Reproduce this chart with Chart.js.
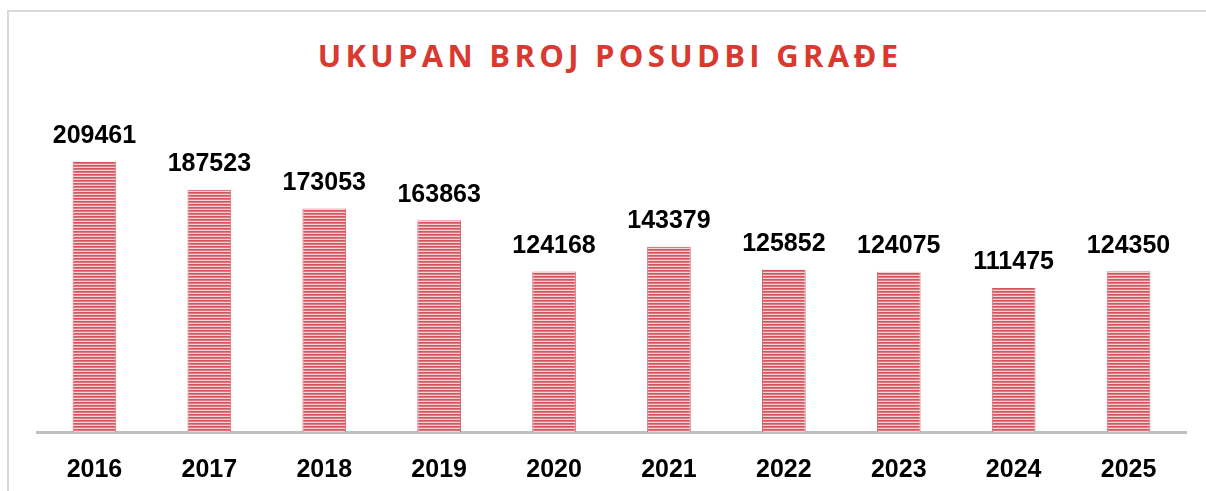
<!DOCTYPE html>
<html>
<head>
<meta charset="utf-8">
<script src="https://cdn.jsdelivr.net/npm/chart.js@4/dist/chart.umd.min.js"></script>
<style>
  html, body { margin: 0; padding: 0; background: #fff; }
  #wrap { position: relative; width: 1206px; height: 491px; overflow: hidden; }
  #frame { position: absolute; left: 7px; top: 10px; width: 1300px; height: 600px;
           border-left: 2px solid #d9d9d9; border-top: 2px solid #d9d9d9; }
  #title { position: absolute; left: 0; width: 1220px; top: 33px; text-align: center;
           font-family: 'Open Sans', sans-serif; font-weight: 700; font-size: 31px;
           letter-spacing: 4.3px; color: #d93a30; line-height: 44px; }
  canvas { position: absolute; left: 0; top: 0; }
</style>
</head>
<body>
<div id="wrap">
  <div id="frame"></div>
  <div id="title">UKUPAN BROJ POSUDBI GRAĐE</div>
  <canvas id="c" width="1206" height="520"></canvas>
</div>
<script>
const years = ['2016', '2017', '2018', '2019', '2020', '2021', '2022', '2023', '2024', '2025'];
const loans = [209461, 187523, 173053, 163863, 124168, 143379, 125852, 124075, 111475, 124350];

// striped fill like the original bars
function stripePattern() {
    const p = document.createElement('canvas');
    p.width = 4; p.height = 3;
    const g = p.getContext('2d');
    g.fillStyle = '#d6545e'; g.fillRect(0, 0, 4, 1);
    g.fillStyle = '#e07880'; g.fillRect(0, 1, 4, 1);
    g.fillStyle = '#f5d0d4'; g.fillRect(0, 2, 4, 1);
    return g.createPattern(p, 'repeat');
}

const valueLabels = {
    id: 'valueLabels',
    afterDatasetsDraw(chart) {
        const ctx = chart.ctx;
        const meta = chart.getDatasetMeta(0);
        ctx.save();
        ctx.font = "bold 25px 'Liberation Sans', Arial, sans-serif";
        ctx.fillStyle = '#000';
        ctx.textAlign = 'center';
        ctx.textBaseline = 'bottom';
        meta.data.forEach((bar, i) => {
            ctx.fillText(String(loans[i]), bar.x, bar.y - 13);
        });
        ctx.restore();
    }
};

new Chart(document.getElementById('c'), {
    type: 'bar',
    data: {
        labels: years,
        datasets: [{
            data: loans,
            backgroundColor: stripePattern(),
            borderColor: '#d8666f',
            borderWidth: { left: 1, right: 1, top: 0, bottom: 0 },
            borderSkipped: false,
            categoryPercentage: 1,
            barPercentage: 0.38
        }]
    },
    options: {
        responsive: false,
        animation: false,
        layout: { padding: { left: 37, right: 20, top: 109, bottom: 20 } },
        plugins: { legend: { display: false }, tooltip: { enabled: false }, title: { display: false } },
        scales: {
            x: {
                grid: { display: false },
                border: { display: true, color: '#c0c0c0', width: 3 },
                ticks: {
                    color: '#000',
                    padding: 15,
                    font: { family: "'Liberation Sans', Arial, sans-serif", size: 25, weight: 'bold' }
                }
            },
            y: {
                display: false,
                min: 0,
                max: 250000
            }
        }
    },
    plugins: [valueLabels]
});
</script>
</body>
</html>
